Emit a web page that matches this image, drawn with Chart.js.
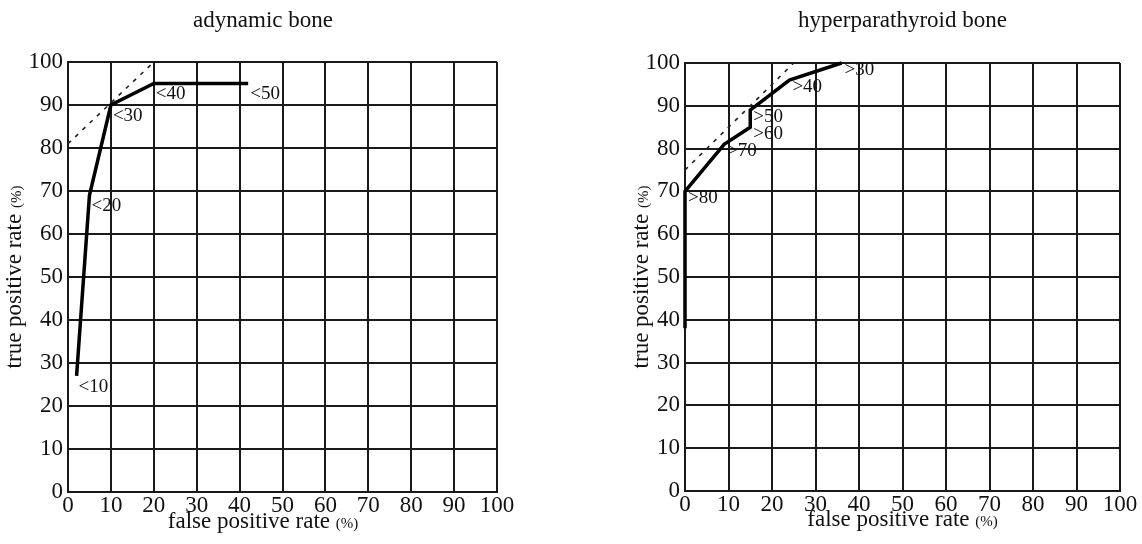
<!DOCTYPE html>
<html>
<head>
<meta charset="utf-8">
<script src="https://cdn.jsdelivr.net/npm/chart.js@4/dist/chart.umd.min.js"></script>
<style>
  html, body { margin: 0; padding: 0; background: #fff; }
  canvas { position: absolute; top: 0; }
  #ady { left: 0; }
  #hyp { left: 600px; }
</style>
</head>
<body>
<canvas id="ady" width="530" height="544"></canvas>
<canvas id="hyp" width="542" height="544"></canvas>
<script>
// grid / tick values shared by both panels
const gridTicks = [0, 10, 20, 30, 40, 50, 60, 70, 80, 90, 100];

// adynamic bone ROC (cut-off values "<n")
const adyFpr = [2, 5, 10, 20, 42];
const adyTpr = [27, 69, 90, 95, 95];
const adyCut = ['<10', '<20', '<30', '<40', '<50'];
const adyRefX = [0, 20];
const adyRefY = [81, 100];

// hyperparathyroid bone ROC (cut-off values ">n")
const hypFpr = [0, 0, 9, 15, 15, 24, 36];
const hypTpr = [38, 70, 81, 85, 89, 96, 100];
const hypCut = ['', '>80', '>70', '>60', '>50', '>40', '>30'];
const hypRefX = [0, 25];
const hypRefY = [75, 100];

const serif = "'Liberation Serif', 'DejaVu Serif', serif";
Chart.defaults.font.family = serif;
Chart.defaults.color = '#111';

const zip = (xs, ys) => xs.map((x, i) => ({ x, y: ys[i] }));

// cut-off labels next to each curve vertex
const pointLabels = {
  id: 'pointLabels',
  afterDatasetsDraw(chart, args, opts) {
    const ctx = chart.ctx;
    const meta = chart.getDatasetMeta(0);
    ctx.save();
    ctx.font = `19px ${serif}`;
    ctx.fillStyle = '#111';
    ctx.textAlign = 'left';
    ctx.textBaseline = 'middle';
    meta.data.forEach((pt, i) => {
      const t = opts.labels[i];
      if (t) ctx.fillText(t, pt.x + opts.dx, pt.y + opts.dy);
    });
    ctx.restore();
  }
};

// axis titles with a smaller "(%)"
function drawMixed(ctx, main, unit, cx, y) {
  ctx.font = `23px ${serif}`;
  const w1 = ctx.measureText(main + ' ').width;
  ctx.font = `15px ${serif}`;
  const w2 = ctx.measureText(unit).width;
  let x = cx - (w1 + w2) / 2;
  ctx.font = `23px ${serif}`;
  ctx.fillText(main, x, y);
  ctx.font = `15px ${serif}`;
  ctx.fillText(unit, x + w1, y);
}

const axisTitles = {
  id: 'axisTitles',
  afterDraw(chart, args, opts) {
    const { ctx, chartArea: a } = chart;
    const tb = chart.titleBlock;
    ctx.save();
    ctx.fillStyle = '#111';
    ctx.textAlign = 'left';
    ctx.textBaseline = 'alphabetic';
    drawMixed(ctx, 'false positive rate', '(%)', (tb.left + tb.right) / 2, a.bottom + opts.xGap);
    ctx.translate(a.left - opts.yGap, (a.top + a.bottom) / 2);
    ctx.rotate(-Math.PI / 2);
    drawMixed(ctx, 'true positive rate', '(%)', 0, 0);
    ctx.restore();
  }
};

function axis(fit) {
  return {
    type: 'linear',
    min: 0,
    max: 100,
    afterBuildTicks: s => { s.ticks = gridTicks.map(v => ({ value: v })); },
    afterFit: fit,
    grid: { color: '#1a1a1a', lineWidth: 2, drawTicks: false },
    border: { color: '#1a1a1a', width: 2 },
    ticks: { font: { size: 23 }, color: '#111', padding: 5 }
  };
}

function makeChart(id, o) {
  const x = axis(s => { s.height = o.xHeight; });
  x.ticks.padding = 0;
  const y = axis(s => { s.width = o.yWidth; });
  return new Chart(document.getElementById(id), {
    type: 'line',
    data: {
      datasets: [
        {
          data: zip(o.fpr, o.tpr),
          borderColor: '#000',
          borderWidth: 3.5,
          pointRadius: 0,
          tension: 0,
          clip: false
        },
        {
          data: zip(o.refX, o.refY),
          borderColor: '#222',
          borderWidth: 1.6,
          borderDash: [4, 6],
          pointRadius: 0
        }
      ]
    },
    options: {
      responsive: false,
      animation: false,
      layout: { padding: { top: 0, right: o.padRight, bottom: 0, left: o.padLeft } },
      scales: { x, y },
      plugins: {
        legend: { display: false },
        tooltip: { enabled: false },
        title: {
          display: true,
          text: o.title,
          fullSize: o.fullSize,
          font: { size: 23, weight: 'normal' },
          color: '#111',
          padding: { top: 7, bottom: o.titleBottom }
        },
        pointLabels: { labels: o.cut, dx: o.dx, dy: o.dy },
        axisTitles: { xGap: o.xGap, yGap: o.yGap }
      }
    },
    plugins: [pointLabels, axisTitles]
  });
}

makeChart('ady', {
  title: 'adynamic bone',
  fpr: adyFpr, tpr: adyTpr, cut: adyCut, refX: adyRefX, refY: adyRefY,
  fullSize: true, padLeft: 29, padRight: 33, titleBottom: 27.4,
  yWidth: 39, xHeight: 52, dx: 2, dy: 11, xGap: 36, yGap: 47
});

makeChart('hyp', {
  title: 'hyperparathyroid bone',
  fpr: hypFpr, tpr: hypTpr, cut: hypCut, refX: hypRefX, refY: hypRefY,
  fullSize: false, padLeft: 0, padRight: 22, titleBottom: 28.4,
  yWidth: 85, xHeight: 53, dx: 3, dy: 7, xGap: 35, yGap: 37
});
</script>
</body>
</html>
